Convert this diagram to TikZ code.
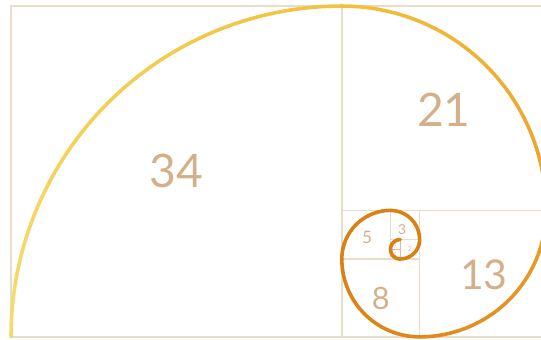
\documentclass[tikz,border=0pt]{standalone}
\usepackage{fontspec}
\setsansfont{Lato}
\usepackage{tikz}
\usetikzlibrary{calc}
\definecolor{fbLine}{HTML}{EADCCB}
\definecolor{fbThin}{HTML}{E8B9A6}
\definecolor{fbText}{HTML}{D4B08A}
\definecolor{fbYellow}{HTML}{F6DC6E}
\definecolor{fbGold}{HTML}{F1C23E}
\definecolor{fbAmber}{HTML}{EBA02A}
\definecolor{fbOrange}{HTML}{DF8A1C}
\definecolor{fbDeep}{HTML}{D98114}

% one quarter of the spiral, shaded from #6 to #7
\newcommand\fibarc[7]{%
  \foreach \k in {0,...,9}{
    \pgfmathsetmacro\pa{#4+(#5-#4)*\k/10}
    \pgfmathsetmacro\pb{#4+(#5-#4)*(\k+1)/10}
    \pgfmathsetmacro\pc{95-10*\k}
    \draw[spir, color=#6!\pc!#7] ($(#1,#2)+(\pa:#3)$) arc[start angle=\pa, end angle=\pb, radius=#3];
  }}

\begin{document}
\begin{tikzpicture}[
  x=0.2cm, y=0.2cm,
  sq/.style={draw=fbLine, line width=0.9pt},
  sqthin/.style={draw=fbThin, line width=0.5pt},
  num/.style={text=fbText, inner sep=0pt, font=\sffamily\fontsize{#1}{#1}\selectfont},
  small/.style={text=fbThin, inner sep=0pt, font=\sffamily\fontsize{#1}{#1}\selectfont},
  spir/.style={line width=2.1pt, line cap=round},
]
\useasboundingbox (-1.13,-0.31) rectangle (54.47,34.62);
\clip (-1.13,-0.31) rectangle (54.47,34.62);

% squares
\draw[sq] (0,0) rectangle (55,34);
\draw[sq] (34,0) -- (34,34);
\draw[sq] (34,13) -- (55,13);
\draw[sq] (42,0) -- (42,13);
\draw[sq] (34,8) -- (42,8);
\draw[sq] (39,8) -- (39,13);
\draw[sq] (39,10) -- (42,10);
\draw[sqthin] (40,8) -- (40,10);
\draw[sqthin] (39,9) -- (40,9);

% labels
\node[num=27] (n34) at (17,17) {34};
\node[num=27] (n21) at (44.5,23.3) {21};
\node[num=24] (n13) at (48.6,6.4) {13};
\node[num=18] (n8) at (38,3.9) {8};
\node[num=10] (n5) at (36.6,10.2) {5};
\node[num=8] (n3) at (40.2,11) {3};
\node[small=4] (n2) at (41,9) {2};
\node[small=3] (n1a) at (39.5,8.5) {1};
\node[small=3] (n1b) at (39.5,9.5) {1};

% spiral
\fibarc{34}{0}{34}{180}{90}{fbYellow}{fbGold}
\fibarc{34}{13}{21}{90}{0}{fbGold}{fbAmber}
\fibarc{42}{13}{13}{0}{-90}{fbAmber}{fbOrange}
\fibarc{42}{8}{8}{270}{180}{fbOrange}{fbDeep}
\fibarc{39}{8}{5}{180}{90}{fbDeep}{fbDeep}
\fibarc{39}{10}{3}{90}{0}{fbDeep}{fbDeep}
\fibarc{40}{10}{2}{0}{-90}{fbDeep}{fbDeep}
\fibarc{40}{9}{1}{-90}{-180}{fbDeep}{fbDeep}
\fibarc{40}{9}{1}{180}{90}{fbDeep}{fbDeep}
\end{tikzpicture}
\end{document}
